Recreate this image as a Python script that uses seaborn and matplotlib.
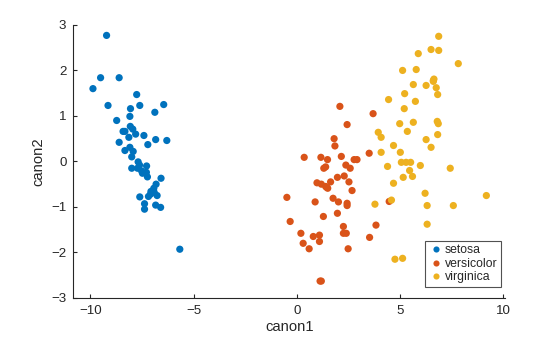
import numpy as np
import pandas as pd
import matplotlib
matplotlib.use("Agg")
import matplotlib.pyplot as plt
import seaborn as sns

# Canonical variable scores of the iris measurements, grouped by species
setosa_c1 = [-9.22, -9.51, -8.61, -9.88, -9.15, -7.76, -8.06, -7.61, -6.45, -6.88,
             -8.09, -8.73, -8.07, -7.95, -8.42, -8.33, -7.81, -8.14, -7.41, -8.61,
             -7.22, -6.84, -6.30, -8.09, -8.33, -7.93, -8.00, -7.69, -7.62, -7.28,
             -8.00, -7.72, -7.52, -7.29, -7.48, -7.24, -6.58, -6.82, -6.93, -7.07,
             -6.91, -7.09, -6.77, -7.19, -7.61, -7.38, -7.38, -6.84, -6.60, -5.67]
setosa_c2 = [2.77, 1.84, 1.84, 1.60, 1.23, 1.47, 1.16, 1.23, 1.25, 1.08,
             0.99, 0.90, 0.77, 0.71, 0.66, 0.66, 0.60, 0.53, 0.57, 0.42,
             0.37, 0.48, 0.46, 0.31, 0.24, 0.22, 0.10, -0.01, -0.08, -0.10,
             -0.15, -0.15, -0.21, -0.24, -0.26, -0.34, -0.37, -0.50, -0.59, -0.66,
             -0.68, -0.72, -0.75, -0.77, -0.78, -0.93, -1.05, -0.96, -1.01, -1.93]

versicolor_c1 = [2.09, 3.70, 2.44, 1.81, 1.85, 0.36, 1.17, 2.16, 1.49, 2.78,
                 2.92, 3.51, 2.38, 2.59, 1.40, 1.31, 1.97, 2.30, 1.64, 0.98,
                 1.19, 1.40, 1.50, 2.53, 2.68, -0.48, 1.76, 2.02, 0.89, 2.44,
                 2.44, 4.48, 1.97, 1.29, -0.32, 3.84, 2.26, 0.20, 2.26, 2.40,
                 0.80, 1.10, 3.53, 0.31, 1.10, 0.60, 2.49, 1.13, 1.19, 1.45]
versicolor_c2 = [1.21, 1.05, 0.81, 0.50, 0.34, 0.09, 0.09, 0.11, 0.04, 0.04,
                 0.04, 0.18, -0.08, -0.15, -0.12, -0.15, -0.35, -0.32, -0.45, -0.47,
                 -0.50, -0.55, -0.59, -0.45, -0.64, -0.79, -0.81, -0.89, -0.89, -0.92,
                 -0.97, -0.88, -1.14, -1.21, -1.32, -1.40, -1.43, -1.58, -1.58, -1.58,
                 -1.65, -1.62, -1.67, -1.80, -1.76, -1.92, -1.92, -2.63, -2.63, -0.57]

virginica_c1 = [6.88, 5.89, 6.51, 6.88, 7.83, 5.13, 5.79, 6.65, 6.62, 5.65,
                6.27, 6.76, 5.23, 6.83, 4.45, 5.75, 5.21, 4.99, 5.65, 6.81,
                6.86, 5.36, 3.95, 4.09, 6.83, 6.27, 4.69, 6.51, 4.09, 5.02,
                5.07, 5.30, 5.52, 5.99, 4.40, 7.44, 5.47, 5.16, 5.61, 4.69,
                6.22, 9.19, 4.59, 3.79, 6.32, 7.59, 6.32, 4.76, 5.13, 6.62]
virginica_c2 = [2.75, 2.37, 2.46, 2.44, 2.15, 2.00, 2.02, 1.81, 1.76, 1.69,
                1.67, 1.62, 1.49, 1.47, 1.36, 1.32, 1.16, 0.83, 0.86, 0.88,
                0.83, 0.66, 0.64, 0.53, 0.59, 0.48, 0.35, 0.31, 0.20, 0.20,
                -0.02, -0.02, -0.02, -0.09, -0.11, -0.15, -0.20, -0.35, -0.33, -0.48,
                -0.70, -0.75, -0.85, -0.94, -0.97, -0.97, -1.38, -2.15, -2.13, 1.78]

species = ["setosa", "versicolor", "virginica"]
colors = ["#0072BD", "#D95319", "#EDB120"]

df = pd.DataFrame({
    "canon1": setosa_c1 + versicolor_c1 + virginica_c1,
    "canon2": setosa_c2 + versicolor_c2 + virginica_c2,
    "species": ["setosa"] * len(setosa_c1)
               + ["versicolor"] * len(versicolor_c1)
               + ["virginica"] * len(virginica_c1),
})

sns.set_theme(style="white")
plt.rcParams["font.family"] = ["Liberation Sans", "DejaVu Sans"]

fig = plt.figure(figsize=(5.6, 3.37), dpi=100)
ax = fig.add_axes([0.131, 0.116, 0.771, 0.810])

sns.scatterplot(data=df, x="canon1", y="canon2", hue="species",
                hue_order=species, palette=colors, s=27, linewidth=0,
                ax=ax, legend=True)

ax.set_xlim(-10.83, 10.1)
ax.set_ylim(-3, 3)
ax.set_xticks([-10, -5, 0, 5, 10])
ax.set_yticks([-3, -2, -1, 0, 1, 2, 3])

dark = "#262626"
for side in ["top", "right"]:
    ax.spines[side].set_visible(False)
for side in ["left", "bottom"]:
    ax.spines[side].set_color(dark)
    ax.spines[side].set_linewidth(0.8)
ax.tick_params(direction="in", length=3, width=0.8, colors=dark,
               labelsize=9.6, left=True, bottom=True, pad=5)
ax.set_xlabel("canon1", fontsize=10.6, color=dark, labelpad=2)
ax.set_ylabel("canon2", fontsize=10.6, color=dark, labelpad=4)

leg = ax.legend(loc="lower right", bbox_to_anchor=(0.99, 0.04),
                fontsize=8.8, frameon=True, fancybox=False,
                handletextpad=0.1, borderpad=0.3, labelspacing=0.12,
                handlelength=1.2, markerscale=0.85, borderaxespad=0)
leg.get_frame().set_edgecolor(dark)
leg.get_frame().set_linewidth(0.8)
for t in leg.get_texts():
    t.set_color(dark)

fig.savefig("out.png", dpi=100, facecolor="white")
